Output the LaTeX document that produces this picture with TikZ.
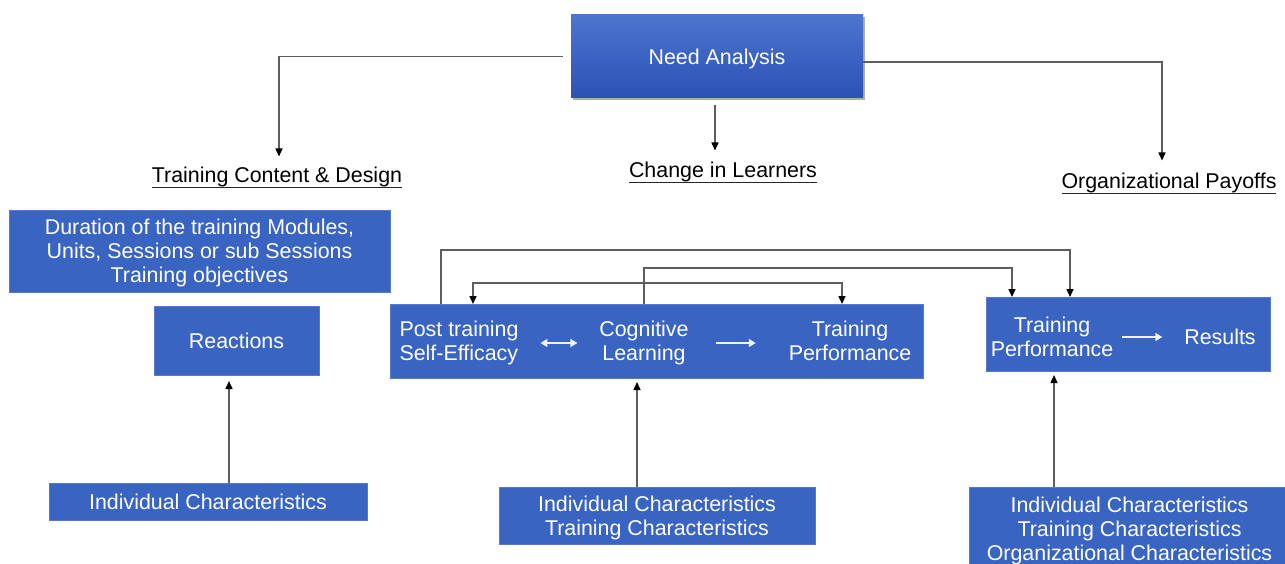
\documentclass[tikz,border=0pt]{standalone}
\usepackage{fontspec}
\setmainfont{Liberation Sans}
\usetikzlibrary{arrows.meta,shadows}
\definecolor{boxblue}{HTML}{3964C2}
\definecolor{topblue}{HTML}{4C75CE}
\definecolor{botblue}{HTML}{2B51B6}
\definecolor{linegrey}{HTML}{5E5E5E}
\definecolor{softwhite}{HTML}{EEF3FB}

\begin{document}
\begin{tikzpicture}[x=1pt,y=-1pt,
  every node/.style={font=\fontsize{21.4}{24}\selectfont, inner sep=0pt, outer sep=0pt},
  bluebox/.style={fill=boxblue, draw=boxblue!85!white, line width=0.8pt, text=white, align=center},
  headbox/.style={top color=topblue, bottom color=botblue,
    drop shadow={shadow xshift=2pt, shadow yshift=-2.5pt, opacity=0.45, fill=black!70}},
  intext/.style={text=white, align=center},
  heading/.style={anchor=base, text=black},
  underbar/.style={draw=black!85, line width=1.3pt},
  conn/.style={draw=linegrey, line width=1.5pt, -{Triangle[length=8pt,width=7pt,color=black]}},
  twoway/.style={draw=linegrey, line width=1.5pt,
    {Triangle[length=8pt,width=7pt,color=black]}-{Triangle[length=8pt,width=7pt,color=black]}},
  wconn/.style={draw=softwhite, line width=1.6pt, -{Triangle[length=7pt,width=8pt]}},
  wtwoway/.style={draw=softwhite, line width=1.6pt,
    {Triangle[length=7pt,width=8pt]}-{Triangle[length=7pt,width=8pt]}},
]
% page frame
\fill[white] (0,0) rectangle (1285,564);
\useasboundingbox (0,0) rectangle (1285,564);

% top node
\node[headbox, minimum width=292pt, minimum height=83pt] (na) at (717,56.5) {};
\node[intext] (nat) at (717,58.5) {Need Analysis};

% three underlined headings
\node[heading] (tcd) at (277,183) {Training Content \& Design};
\node[heading] (cl)  at (723,178) {Change in Learners};
\node[heading] (op)  at (1169,189) {Organizational Payoffs};
\foreach \h in {tcd,cl,op}
  \draw[underbar] ([yshift=-4.5pt]\h.base west) -- ([yshift=-4.5pt]\h.base east);

% left column
\node[bluebox, minimum width=381pt, minimum height=82pt] (dur) at (199.5,251) {};
\node[intext] (durt) at (199.5,253)
  {Duration of the training Modules,\\Units, Sessions or sub Sessions\\Training objectives};
\node[bluebox, minimum width=165pt, minimum height=69pt] (react) at (236.5,340.5) {Reactions};
\node[bluebox, minimum width=318pt, minimum height=37pt] (ic1) at (208,501.5) {Individual Characteristics};

% middle column
\node[bluebox, minimum width=533pt, minimum height=74pt] (big) at (656.5,341) {};
\node[intext, align=left] (pte) at (459,343) {Post training\\Self-Efficacy};
\node[intext] (cog) at (644,343) {Cognitive\\Learning};
\node[intext] (tp)  at (850,341) {Training\\Performance};
\node[bluebox, minimum width=316pt, minimum height=57pt] (ic2) at (657,515.5) {};
\node[intext] (ic2t) at (657,517.5) {Individual Characteristics\\Training Characteristics};

% right column
\node[bluebox, minimum width=284pt, minimum height=74pt] (res) at (1128,334) {};
\node[intext] (tp2) at (1052,337) {Training\\Performance};
\node[intext] (rs)  at (1220,337) {Results};
\node[bluebox, minimum width=321pt, minimum height=82pt] (ic3) at (1129.5,528) {};
\node[intext] (ic3t) at (1129.5,530.5)
  {Individual Characteristics\\Training Characteristics\\Organizational Characteristics};

% from the need analysis to the three headings
\draw[conn, shorten <=8pt, shorten >=11pt] (na.west) -| ([xshift=2pt]tcd.north);
\draw[conn, shorten <=7pt, shorten >=12pt] ([xshift=-2pt]na.south) -- ([xshift=-2pt]na.south |- cl.north);
\draw[conn, shorten >=13pt] ([yshift=-5.5pt]na.east) -| ([xshift=-7pt]op.north);

% links above the learner box
\draw[conn] ([xshift=51pt]big.north west) -- ++(0,-54) -| ([xshift=-58pt]res.north);
\draw[conn] (cog.north |- big.north) -- ++(0,-36) -| ([xshift=-116pt]res.north);
\draw[twoway] ([xshift=83pt]big.north west) -- ++(0,-21) -| ([xshift=452pt]big.north west);

% arrows inside the blue boxes
\draw[wtwoway, shorten <=22pt, shorten >=22pt] (pte.east) -- (cog.west |- pte.east);
\draw[wconn, shorten <=27pt, shorten >=33pt] (cog.east) -- (tp.west |- cog.east);
\draw[wconn, shorten <=9pt, shorten >=22pt] (tp2.east |- rs.west) -- (rs.west);

% characteristics feeding upwards
\draw[conn, shorten >=6pt] ([xshift=-7.5pt]ic1.north -| react.south) -- ([xshift=-7.5pt]react.south);
\draw[conn, shorten >=4pt] ([xshift=-20pt]ic2.north) -- ([xshift=-20pt]ic2.north |- big.south);
\draw[conn, shorten >=4pt] ([xshift=-75.5pt]ic3.north) -- ([xshift=-75.5pt]ic3.north |- res.south);
\end{tikzpicture}
\end{document}
